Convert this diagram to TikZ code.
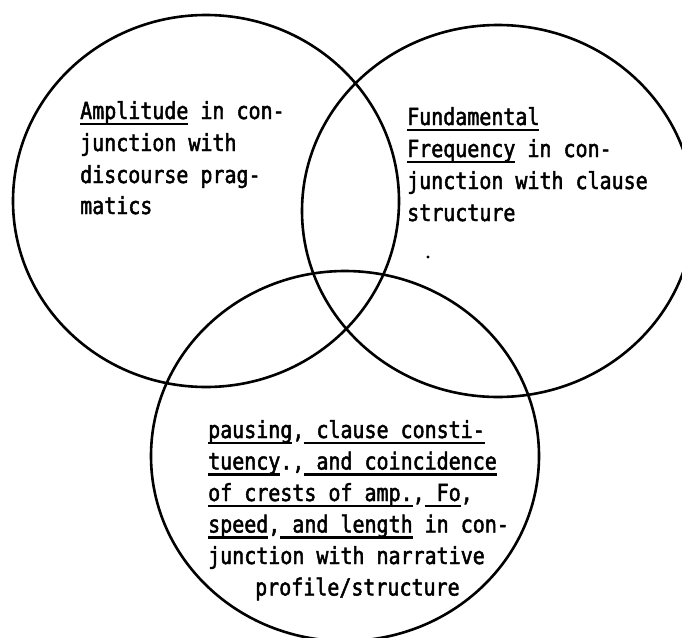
\documentclass[tikz,border=0pt]{standalone}
\usepackage{fontspec}
\setmainfont{DejaVu Sans Mono}[FakeStretch=0.85,FakeBold=2]
\newsavebox\ulbox
\newcommand\myul[1]{\sbox\ulbox{#1}\rlap{\rule[-6pt]{\wd\ulbox}{2.4pt}}\usebox\ulbox}
\begin{document}
\begin{tikzpicture}[x=1pt,y=-1pt,
  ring/.style={draw=black,line width=2.6pt},
  txt/.style={anchor=base west,inner sep=0pt,font=\fontsize{23.5}{30}\selectfont}]
\clip (0,0) rectangle (682,637);
\fill[white] (0,0) rectangle (682,637);
% circles
\draw[ring] (206,201) ellipse [x radius=193pt, y radius=186pt];
\draw[ring] (498,211) ellipse [x radius=196pt, y radius=186pt];
\draw[ring] (345,456) ellipse [x radius=194pt, y radius=185pt];
% stray speck
\fill (428,257) circle [radius=1.6pt];
% top-left text
\node[txt] (a1) at (80,119) {\myul{Amplitude} in con-};
\node[txt] (a2) at (80,151) {junction with};
\node[txt] (a3) at (80,183) {discourse prag-};
\node[txt] (a4) at (80,214) {matics};
% top-right text
\node[txt] (f1) at (407,125) {\myul{Fundamental}};
\node[txt] (f2) at (407,157) {\myul{Frequency} in con-};
\node[txt] (f3) at (407,189) {junction with clause};
\node[txt] (f4) at (407,221) {structure};
% bottom text
\node[txt] (p1) at (208,438) {\myul{pausing},\myul{\ clause consti-}};
\node[txt] (p2) at (208,469.5) {\myul{tuency}.,\myul{\ and coincidence}};
\node[txt] (p3) at (208,501) {\myul{of crests of amp.},\myul{\ Fo},};
\node[txt] (p4) at (208,532.5) {\myul{speed},\myul{\ and length} in con-};
\node[txt] (p5) at (208,564) {junction with narrative};
\node[txt] (p6) at (255,595.5) {profile/structure};
\end{tikzpicture}
\end{document}
